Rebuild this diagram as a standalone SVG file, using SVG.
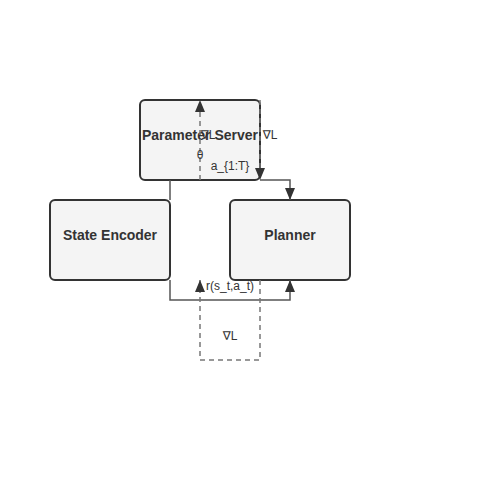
<svg xmlns="http://www.w3.org/2000/svg" width="500" height="500" viewBox="0 0 500 500">
<style>
.node rect{fill:#f4f4f4;stroke:#333;stroke-width:2}
.node text{font-family:"Liberation Sans",Arial,sans-serif;font-size:14px;font-weight:bold;fill:#333;text-anchor:middle;dominant-baseline:central}
.solid{fill:none;stroke:#555;stroke-width:1.5}
.dash{fill:none;stroke:#777;stroke-width:1.5;stroke-dasharray:5,4}
.lbl{font-family:"Liberation Sans",Arial,"DejaVu Sans",sans-serif;font-size:12px;fill:#333;text-anchor:middle;dominant-baseline:central}
</style>
<defs>
<marker id="arr" viewBox="0 0 12 10" refX="12" refY="5" markerWidth="12" markerHeight="10" markerUnits="userSpaceOnUse" orient="auto" overflow="visible">
<path d="M0,0 L12,5 L0,10 Z" fill="#333"/>
</marker>
</defs>
<rect width="500" height="500" fill="#fff"/>
<g id="node-parameter-server" class="node">
<rect x="140" y="100" width="120" height="80" rx="5"/>
<text x="200" y="135">Parameter Server</text>
</g>
<g id="node-state-encoder" class="node">
<rect x="50" y="200" width="120" height="80" rx="5"/>
<text x="110" y="235">State Encoder</text>
</g>
<g id="node-planner" class="node">
<rect x="230" y="200" width="120" height="80" rx="5"/>
<text x="290" y="235">Planner</text>
</g>
<g id="connectors">
<path class="solid" d="M170,180 L170,200"/>
<path class="solid" d="M260,180 L290,180 L290,200" marker-end="url(#arr)"/>
<path class="solid" d="M170,280 L170,300 L290,300 L290,280" marker-end="url(#arr)"/>
<path class="dash" d="M200,180 L200,100" marker-end="url(#arr)"/>
<path class="dash" d="M260,100 L260,180" marker-end="url(#arr)"/>
<path class="dash" d="M260,280 L260,360 L200,360 L200,280" marker-end="url(#arr)"/>
<text class="lbl" x="208" y="135">∇L</text>
<text class="lbl" x="200" y="155">θ</text>
<text class="lbl" x="230" y="166">a_{1:T}</text>
<text class="lbl" x="270" y="135">∇L</text>
<text class="lbl" x="230" y="286">r(s_t,a_t)</text>
<text class="lbl" x="230" y="336">∇L</text>
</g>
</svg>
